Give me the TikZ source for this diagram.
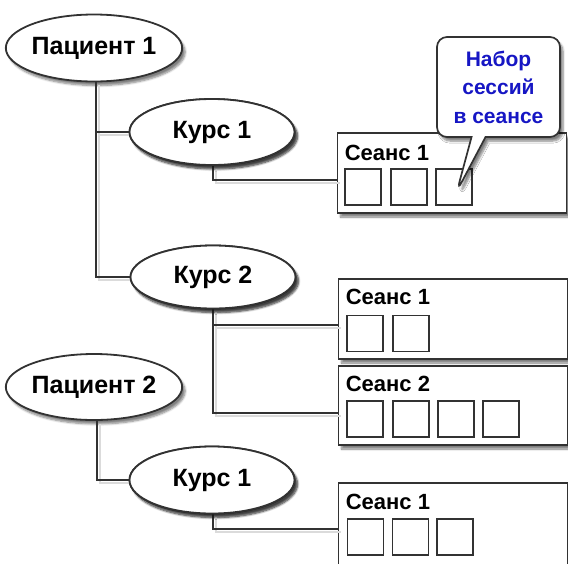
\documentclass[tikz,border=0pt]{standalone}
\usepackage{fontspec}
\setmainfont{Liberation Sans}
\usetikzlibrary{shapes.geometric,shapes.callouts,shadows.blur,calc}
\definecolor{linecol}{RGB}{50,50,50}
\definecolor{calloutblue}{RGB}{22,22,196}
\tikzset{
  shad/.style={blur shadow={shadow xshift=3pt,shadow yshift=-4pt,shadow blur steps=6,shadow opacity=50}},
  oval/.style={ellipse,draw=linecol,line width=1.8pt,fill=white,minimum width=166pt,minimum height=67pt,inner sep=0pt,shad,font=\fontsize{25}{30}\selectfont\bfseries},
  sbox/.style={rectangle,draw=linecol,line width=1.8pt,fill=white,minimum width=229pt,inner sep=0pt,shad},
  slabel/.style={anchor=base west,inner sep=0pt,font=\fontsize{22}{26}\selectfont\bfseries},
  cell/.style={rectangle,draw=linecol,line width=1.7pt,fill=white,minimum size=36pt,inner sep=0pt},
  conn/.style={draw=linecol,line width=1.7pt,preaction={draw=black!14,line width=2.6pt,transform canvas={shift={(3pt,-3pt)}}}},
  note/.style={rectangle callout,rounded corners=10pt,draw=linecol,line width=1.7pt,fill=white,minimum width=123pt,minimum height=100pt,inner sep=0pt,callout pointer width=14pt,shad,align=center,text=calloutblue,font=\fontsize{21}{28.5}\selectfont\bfseries}
}
\begin{document}
\begin{tikzpicture}[x=1pt,y=-1pt]
\useasboundingbox (0,0) rectangle (568,563);
% session boxes
\node[sbox,minimum height=80pt] (S11) at (452,173) {};
\node[sbox,minimum height=80pt] (S21) at (453,319) {};
\node[sbox,minimum height=79pt] (S22) at (453,405.5) {};
\node[sbox,minimum height=90pt] (S31) at (453,528) {};
\node[slabel] (L11) at ($(S11.north west)+(8,28)$) {Сеанс 1};
\node[slabel] (L21) at ($(S21.north west)+(8,26)$) {Сеанс 1};
\node[slabel] (L22) at ($(S22.north west)+(8,26)$) {Сеанс 2};
\node[slabel] (L31) at ($(S31.north west)+(8,27)$) {Сеанс 1};
% cells
\node[cell] (c111) at (363,187) {};
\node[cell] (c112) at (409,187) {};
\node[cell] (c113) at (454,187) {};
\node[cell] (c211) at (365,333.5) {};
\node[cell] (c212) at (411,333.5) {};
\node[cell] (c221) at (365,419) {};
\node[cell] (c222) at (411,419) {};
\node[cell] (c223) at (456,419) {};
\node[cell] (c224) at (501,419) {};
\node[cell] (c311) at (365.5,537) {};
\node[cell] (c312) at (410.5,537) {};
\node[cell] (c313) at (455,537) {};
% ovals
\node[oval] (P1) at (94,48) {Пациент 1};
\node[oval,minimum width=165pt,minimum height=66pt] (K1) at (212,132) {Курс 1};
\node[oval,minimum width=165pt,minimum height=63pt] (K2) at (213,277) {Курс 2};
\node[oval,minimum height=66pt] (P2) at (94,387) {Пациент 2};
\node[oval,minimum width=165pt,minimum height=67pt] (K3) at (212,480) {Курс 1};
% connectors
\coordinate (a11) at ([yshift=-7pt]S11.west);
\coordinate (a21) at ([yshift=-6pt]S21.west);
\coordinate (a22) at ([yshift=-7.5pt]S22.west);
\coordinate (a31) at ([yshift=-1pt]S31.west);
\draw[conn] ([xshift=2pt]P1.south) |- (K2.west);
\draw[conn] ([xshift=2pt]P1.south |- K1.west) -- (K1.west);
\draw[conn] ([xshift=1pt]K1.south) |- (a11);
\draw[conn] (K2.south) |- (a22);
\draw[conn] (K2.south |- a21) -- (a21);
\draw[conn] ([xshift=3pt]P2.south) |- (K3.west);
\draw[conn] ([xshift=1pt]K3.south) |- (a31);
% redraw ovals above connector shadows
\node[oval,minimum width=165pt,minimum height=66pt] at (K1) {Курс 1};
\node[oval,minimum width=165pt,minimum height=63pt] at (K2) {Курс 2};
\node[oval,minimum width=165pt,minimum height=67pt] at (K3) {Курс 1};
% callout
\node[note,callout absolute pointer={([xshift=3pt,yshift=-4pt]c113.center)}] (N) at (498.5,87) {Набор\\сессий\\в сеансе};
\end{tikzpicture}
\end{document}
